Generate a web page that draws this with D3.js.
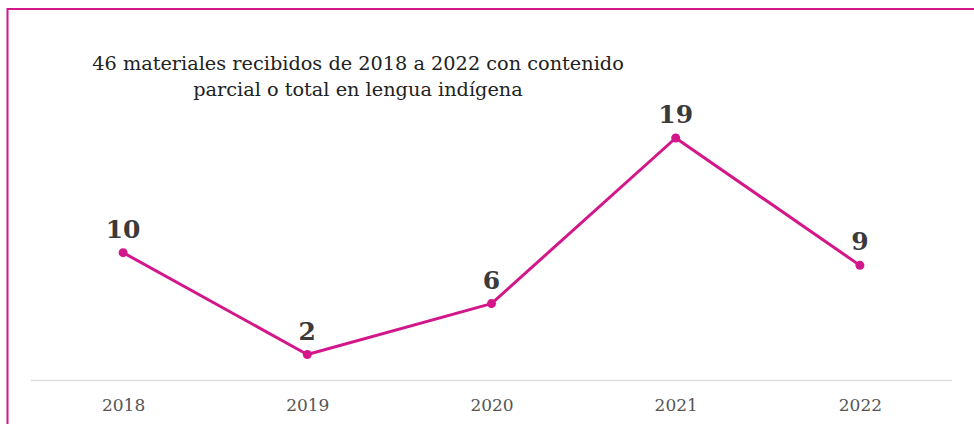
<!DOCTYPE html>
<html>
<head>
<meta charset="utf-8">
<script src="https://cdn.jsdelivr.net/npm/d3@7"></script>
<style>
  body { margin: 0; background: #fff; }
  svg { display: block; }
</style>
</head>
<body>
<svg id="chart" width="974" height="424"></svg>
<script>
const years = ["2018", "2019", "2020", "2021", "2022"];
const values = [10, 2, 6, 19, 9];
const titleLines = [
  "46 materiales recibidos de 2018 a 2022 con contenido",
  "parcial o total en lengua indígena"
];

const PINK = "#d4168b";
const svg = d3.select("#chart");

// frame: top + left edge only
svg.append("line").attr("x1", 7).attr("x2", 974).attr("y1", 9).attr("y2", 9)
  .attr("stroke", PINK).attr("stroke-width", 2);
svg.append("line").attr("x1", 7.5).attr("x2", 7.5).attr("y1", 8).attr("y2", 424)
  .attr("stroke", PINK).attr("stroke-width", 2);

const x = d3.scalePoint().domain(years).range([31, 952]).padding(0.5);
const y = d3.scaleLinear().domain([0, 19]).range([380, 138]);

svg.append("g")
  .selectAll("text")
  .data(titleLines)
  .join("text")
  .attr("x", 358)
  .attr("y", (d, i) => 70 + i * 26)
  .attr("text-anchor", "middle")
  .attr("font-family", "DejaVu Serif")
  .attr("font-size", 19.3)
  .attr("fill", "#222")
  .text(d => d);

// baseline + year labels
svg.append("line").attr("x1", 31).attr("x2", 952).attr("y1", 380.5).attr("y2", 380.5)
  .attr("stroke", "#ddd").attr("stroke-width", 1.5);

const xAxis = svg.append("g")
  .attr("transform", "translate(0,380)")
  .call(d3.axisBottom(x).tickSize(0).tickPadding(19));
xAxis.select(".domain").remove();
xAxis.selectAll("text")
  .attr("font-family", "DejaVu Serif")
  .attr("font-size", 17)
  .attr("fill", "#555");

const data = years.map((yr, i) => ({ yr, v: values[i] }));

svg.append("path")
  .datum(data)
  .attr("fill", "none")
  .attr("stroke", PINK)
  .attr("stroke-width", 3)
  .attr("stroke-linejoin", "round")
  .attr("d", d3.line().x(d => x(d.yr)).y(d => y(d.v)));

svg.append("g")
  .selectAll("circle")
  .data(data)
  .join("circle")
  .attr("cx", d => x(d.yr))
  .attr("cy", d => y(d.v))
  .attr("r", 4.5)
  .attr("fill", PINK);

svg.append("g")
  .selectAll("text")
  .data(data)
  .join("text")
  .attr("x", d => x(d.yr))
  .attr("y", d => y(d.v) - 15)
  .attr("text-anchor", "middle")
  .attr("font-family", "DejaVu Serif")
  .attr("font-weight", "bold")
  .attr("font-size", 25)
  .attr("fill", "#3a3a3a")
  .text(d => d.v);
</script>
</body>
</html>
